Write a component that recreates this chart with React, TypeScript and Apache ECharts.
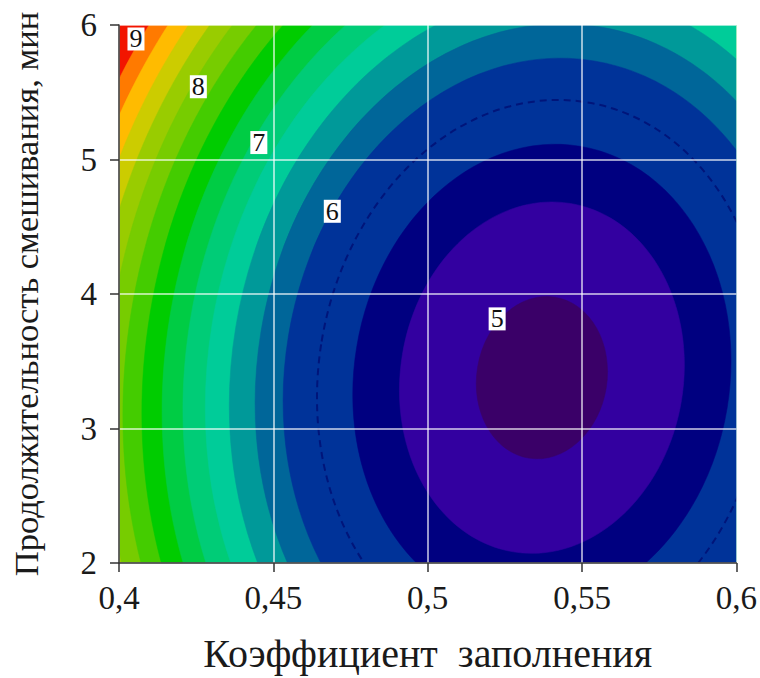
import React, { useEffect, useRef } from "react";
import * as echarts from "echarts";

// Contour levels (response value), from the outermost to the innermost
const levels = [9, 8.75, 8.5, 8.25, 8, 7.75, 7.5, 7.25, 7, 6.75, 6.5, 6.25, 6, 5.75, 5.5, 5.25, 5];
// Fill colour inside each contour (band just below the level)
const bandColors = [
  "#ff7a00", "#ffbb00", "#cccc00", "#99cc00", "#77cc00", "#44cc00", "#00cc00", "#00cc44",
  "#00cc77", "#00cc99", "#009999", "#006699", "#003399", "#003399", "#000080", "#3300a0", "#3a0068",
];
const outerColor = "#f21500"; // value above 9
// Contour ellipses: centre (x, y) and semi-axes (in axis units)
const centerX = 0.537;
const centerY = 3.378;
const semiAxisX = [0.1618, 0.1568, 0.1515, 0.1461, 0.1405, 0.1347, 0.1286, 0.1221, 0.1154, 0.1082, 0.1005, 0.0922, 0.0832, 0.0723, 0.0608, 0.0458, 0.0211];
const semiAxisY = [4.638, 4.494, 4.345, 4.19, 4.028, 3.861, 3.686, 3.501, 3.308, 3.101, 2.881, 2.643, 2.386, 2.074, 1.743, 1.312, 0.606];
const contourTiltDeg = -9.3;
const dashedLevel = 5.75;

// Contour labels
const labelTexts = ["9", "8", "7", "6", "5"];
const labelX = [0.4055, 0.4257, 0.4453, 0.4691, 0.5225];
const labelY = [5.896, 5.541, 5.126, 4.615, 3.815];

const xTicks = [0.4, 0.45, 0.5, 0.55, 0.6];
const xTickLabels = ["0,4", "0,45", "0,5", "0,55", "0,6"];
const yTickLabels = ["2", "3", "4", "5", "6"];

const xTitle = "Коэффициент  заполнения";
const yTitle = "Продолжительность смешивания, мин";

const FONT = "Times New Roman, Liberation Serif, DejaVu Serif, serif";

export default function App() {
  const ref = useRef<HTMLDivElement>(null);
  useEffect(() => {
    if (!ref.current) return;
    const chart = echarts.init(ref.current, undefined, { renderer: "svg" });
    const contourData = levels.map((lv, i) => [centerX, centerY, semiAxisX[i], semiAxisY[i], contourTiltDeg, lv]);
    const option: any = {
      animation: false,
      backgroundColor: "#ffffff",
      textStyle: { fontFamily: FONT },
      grid: {
        left: 118,
        right: 20,
        top: 25,
        bottom: 113,
        show: true,
        backgroundColor: outerColor,
        borderWidth: 0,
      },
      xAxis: {
        type: "value",
        min: 0.4,
        max: 0.6,
        interval: 0.05,
        z: 10,
        name: xTitle,
        nameLocation: "middle",
        nameGap: 70,
        nameTextStyle: { fontFamily: FONT, fontSize: 40, color: "#1a1a1a" },
        axisLine: { show: true, lineStyle: { color: "#333", width: 1.5 } },
        axisTick: { show: true, length: 9, lineStyle: { color: "#333", width: 1.5 } },
        axisLabel: {
          margin: 18,
          fontFamily: FONT,
          fontSize: 33,
          color: "#1a1a1a",
          formatter: (v: number) => {
            const i = xTicks.findIndex((t) => Math.abs(t - v) < 1e-6);
            return i >= 0 ? xTickLabels[i] : "";
          },
        },
        splitLine: { show: true, lineStyle: { color: "rgba(255,255,255,0.8)", width: 1.5 } },
      },
      yAxis: {
        type: "value",
        min: 2,
        max: 6,
        interval: 1,
        z: 10,
        name: yTitle,
        nameLocation: "middle",
        nameGap: 76,
        nameTextStyle: { fontFamily: FONT, fontSize: 34.5, color: "#1a1a1a" },
        axisLine: { show: true, lineStyle: { color: "#333", width: 1.5 } },
        axisTick: { show: true, length: 9, lineStyle: { color: "#333", width: 1.5 } },
        axisLabel: {
          margin: 22,
          fontFamily: FONT,
          fontSize: 33,
          color: "#1a1a1a",
          formatter: (v: number) => yTickLabels[Math.round(v - 2)] ?? "",
        },
        splitLine: { show: true, lineStyle: { color: "rgba(255,255,255,0.8)", width: 1.5 } },
      },
      series: [
        {
          type: "custom",
          z: 1,
          clip: true,
          data: contourData,
          renderItem: (params: any, api: any) => {
            const c = api.coord([api.value(0), api.value(1)]);
            const s = api.size([api.value(2), api.value(3)]);
            const idx = params.dataIndex;
            const cs = params.coordSys;
            const isDashed = Math.abs(api.value(5) - dashedLevel) < 1e-6;
            return {
              type: "group",
              clipPath: { type: "rect", shape: { x: cs.x, y: cs.y, width: cs.width, height: cs.height } },
              children: [
                {
                  type: "ellipse",
                  x: c[0],
                  y: c[1],
                  rotation: (api.value(4) * Math.PI) / 180,
                  shape: { cx: 0, cy: 0, rx: s[0], ry: s[1] },
                  style: isDashed
                    ? { fill: bandColors[idx], stroke: "#00157a", lineWidth: 2, lineDash: [7, 5] }
                    : { fill: bandColors[idx], stroke: bandColors[idx], lineWidth: 0.5 },
                },
              ],
            };
          },
        },
        {
          type: "custom",
          z: 20,
          data: labelTexts.map((t, i) => [labelX[i], labelY[i], i]),
          renderItem: (params: any, api: any) => {
            const c = api.coord([api.value(0), api.value(1)]);
            return {
              type: "text",
              x: c[0],
              y: c[1],
              style: {
                text: labelTexts[params.dataIndex],
                fontFamily: FONT,
                fontSize: 26,
                fill: "#111111",
                backgroundColor: "#ffffff",
                padding: [0, 2, 0, 2],
                lineHeight: 23,
                align: "center",
                verticalAlign: "middle",
              },
            };
          },
        },
      ],
    };
    chart.setOption(option);
    return () => chart.dispose();
  }, []);
  return <div ref={ref} style={{ position: "absolute", left: 0, top: 0, width: "760px", height: "678px" }} />;
}
